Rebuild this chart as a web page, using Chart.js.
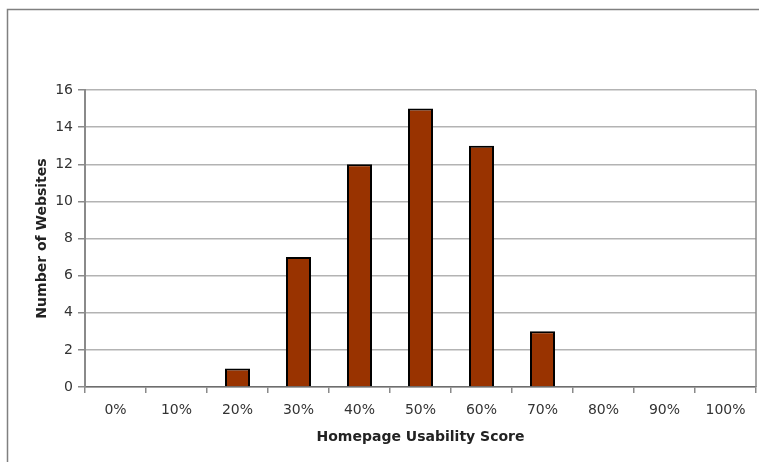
<!DOCTYPE html>
<html>
<head>
<meta charset="utf-8">
<script src="https://cdn.jsdelivr.net/npm/chart.js@4"></script>
<style>
html,body{margin:0;padding:0;background:#fff;}
#wrap{width:759px;height:462px;position:relative;}
</style>
</head>
<body>
<div id="wrap"><canvas id="scoreChart" width="759" height="462"></canvas></div>
<script>
const categories=["0%","10%","20%","30%","40%","50%","60%","70%","80%","90%","100%"];
const websites=[0,0,1,7,12,15,13,3,0,0,0];
const yTicks=[0,2,4,6,8,10,12,14,16];

const FONT="'DejaVu Sans', Verdana, sans-serif";

// outer frame plus the right edge of the plot box
const frame={
id:"frame",
afterDraw(chart){
const c=chart.ctx;
const a=chart.chartArea;
c.save();
c.strokeStyle="#808080";
c.lineWidth=1.5;
c.strokeRect(7.5,9.5,780,480);
c.strokeStyle="#8a8a8a";
c.beginPath();
c.moveTo(a.right,a.top);
c.lineTo(a.right,a.bottom);
c.stroke();
c.restore();
}
};

new Chart(document.getElementById("scoreChart"),{
type:"bar",
data:{
labels:categories,
datasets:[{
data:websites,
backgroundColor:"#993300",
borderColor:"#000",
borderWidth:2,
borderSkipped:"bottom",
categoryPercentage:1,
barPercentage:0.41
}]
},
options:{
responsive:false,
animation:false,
layout:{padding:{left:34,top:90,right:3,bottom:0}},
plugins:{legend:{display:false},tooltip:{enabled:false}},
scales:{
x:{
grid:{display:true,drawOnChartArea:false,offset:true,tickLength:6,color:"#8a8a8a",lineWidth:1.5},
border:{display:true,color:"#6e6e6e",width:1.5},
ticks:{color:"#333",font:{family:FONT,size:14},padding:9,maxRotation:0,autoSkip:false},
title:{display:true,text:"Homepage Usability Score",color:"#222",font:{family:FONT,size:14,weight:"bold"},padding:{top:0,bottom:16}},
afterFit(s){s.height=75;}
},
y:{
min:0,max:16,
afterBuildTicks(s){s.ticks=yTicks.map(v=>({value:v}));},
grid:{color:"#b3b3b3",lineWidth:1.5,tickLength:7,tickColor:"#8a8a8a"},
border:{display:true,color:"#8a8a8a",width:2},
ticks:{color:"#333",font:{family:FONT,size:14},padding:5},
title:{display:true,text:"Number of Websites",color:"#222",font:{family:FONT,size:14,weight:"bold"},padding:0},
afterFit(s){s.width=51;}
}
}
},
plugins:[frame]
});
</script>
</body>
</html>
